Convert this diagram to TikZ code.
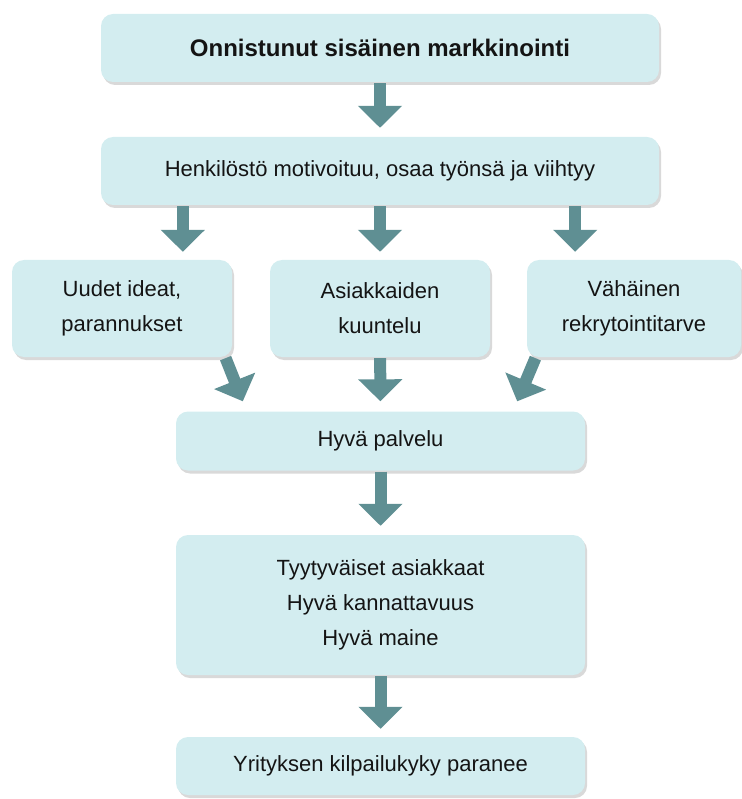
\documentclass[tikz,border=0pt]{standalone}
\usepackage{fontspec}
\setmainfont{Liberation Sans}
\usetikzlibrary{arrows.meta,shadows}
\definecolor{boxfill}{HTML}{D3EDF0}
\definecolor{arrowteal}{HTML}{5F8F93}
\definecolor{boxtext}{HTML}{141414}
\newlength{\WideBox}
\newlength{\MidBox}
\newlength{\SideBox}
\setlength{\WideBox}{558pt}
\setlength{\MidBox}{409pt}
\setlength{\SideBox}{220pt}
\tikzset{
  flow box/.style={fill=boxfill, rounded corners=12pt, align=center, inner sep=0pt,
    text=boxtext, font=\fontsize{22}{35}\selectfont,
    drop shadow={shadow xshift=2pt, shadow yshift=-3pt, opacity=0.3, fill=black!50}},
  flow arrow/.style={draw=arrowteal, line width=12pt, shorten <=1pt,
    -{Triangle[width=43pt, length=22pt]}},
}

\begin{document}
\begin{tikzpicture}[x=1pt, y=-1pt]
  \useasboundingbox (0,0) rectangle (741,799);

  \node[flow box, minimum width=\WideBox, minimum height=68pt,
    font=\fontsize{24}{35}\selectfont\bfseries] (sisainen) at (380,48) {Onnistunut sisäinen markkinointi};
  \node[flow box, minimum width=\WideBox, minimum height=68pt] (henkilosto) at (380,171) {Henkilöstö motivoituu, osaa työnsä ja viihtyy};

  \node[flow box, minimum width=\SideBox, minimum height=97pt] (ideat) at (122,308.5) {Uudet ideat,\\parannukset};
  \node[flow box, minimum width=\SideBox, minimum height=97pt] (kuuntelu) at (380,308.5) {Asiakkaiden\\kuuntelu};
  \node[flow box, minimum width=214pt, minimum height=97pt] (rekry) at (634,308.5) {Vähäinen\\rekrytointitarve};

  \node[flow box, minimum width=\MidBox, minimum height=59pt] (palvelu) at (380.5,441) {Hyvä palvelu};
  \node[flow box, minimum width=\MidBox, minimum height=140pt] (tulos) at (380.5,605) {Tyytyväiset asiakkaat\\Hyvä kannattavuus\\Hyvä maine};
  \node[flow box, minimum width=\MidBox, minimum height=58pt] (kilpailu) at (380.5,766) {Yrityksen kilpailukyky paranee};

  \coordinate (haara1) at ([xshift=82pt]henkilosto.south west);
  \coordinate (haara2) at (henkilosto.south);
  \coordinate (haara3) at ([xshift=-84pt]henkilosto.south east);

  \draw[flow arrow, shorten >=9pt] (sisainen) -- (henkilosto);
  \draw[flow arrow, shorten >=8pt] (haara1) -- (haara1 |- ideat.north);
  \draw[flow arrow, shorten >=8pt] (haara2) -- (haara2 |- kuuntelu.north);
  \draw[flow arrow, shorten >=8pt] (haara3) -- (haara3 |- rekry.north);
  \draw[flow arrow] ([xshift=-7pt]ideat.south east) -- ([xshift=67pt, yshift=10pt]palvelu.north west);
  \draw[flow arrow, shorten >=10pt] (kuuntelu) -- (palvelu);
  \draw[flow arrow] ([xshift=9pt]rekry.south west) -- ([xshift=-68pt, yshift=10pt]palvelu.north east);
  \draw[flow arrow, shorten >=9pt] (palvelu) -- (tulos);
  \draw[flow arrow, shorten >=8pt] (tulos) -- (kilpailu);
\end{tikzpicture}
\end{document}
